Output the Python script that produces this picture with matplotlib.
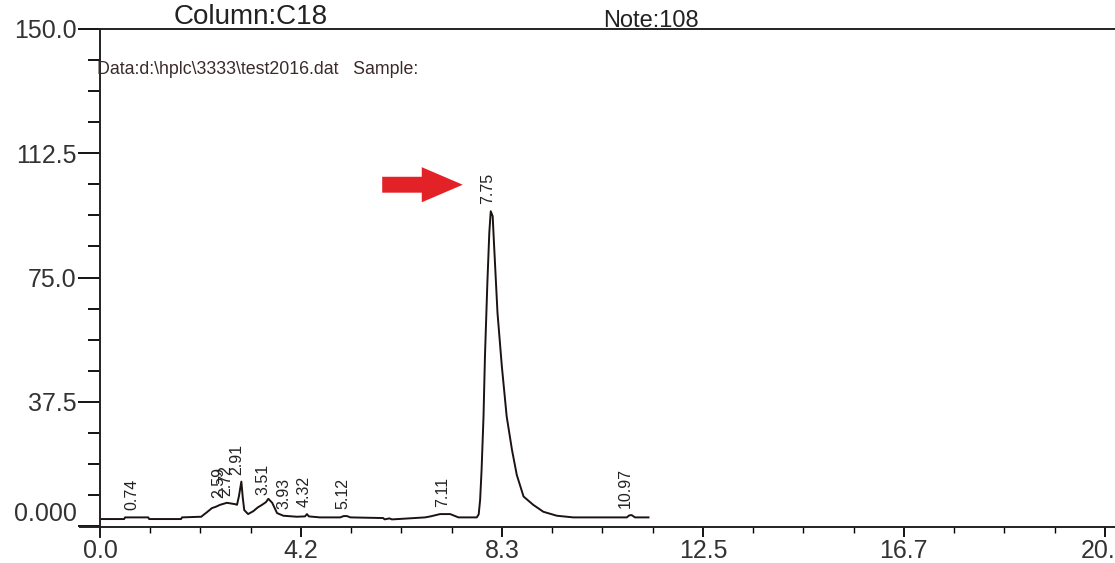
import numpy as np
import matplotlib
matplotlib.use("Agg")
import matplotlib.pyplot as plt
from matplotlib.ticker import AutoMinorLocator

plt.rcParams['font.family'] = ['Liberation Sans', 'DejaVu Sans']

# trace (time in min, signal)
time = [0.0, 0.50, 0.52, 1.00, 1.02, 1.68, 1.70, 2.10, 2.14, 2.22, 2.32, 2.40,
        2.49, 2.63, 2.80, 2.84, 2.88, 2.93, 2.96, 2.99, 3.07, 3.18, 3.27, 3.36,
        3.44, 3.49, 3.53, 3.57, 3.67, 3.80, 4.08, 4.25, 4.29, 4.33, 4.56, 4.98,
        5.05, 5.12, 5.19, 5.87, 5.90, 6.00, 6.05, 6.18, 6.74, 6.85, 7.05, 7.26,
        7.43, 7.81, 7.85, 7.88, 7.91, 7.95, 7.98, 8.03, 8.07, 8.10, 8.14, 8.17,
        8.24, 8.33, 8.43, 8.54, 8.64, 8.78, 8.98, 9.19, 9.47, 9.81, 10.92, 10.97,
        11.02, 11.09, 11.37]
signal = [2.1, 2.1, 2.6, 2.6, 2.1, 2.1, 2.6, 2.8, 3.3, 4.2, 5.4, 5.8,
          6.4, 7.0, 6.6, 6.4, 9.0, 13.4, 8.5, 4.8, 3.6, 4.5, 5.6, 6.4,
          7.2, 8.2, 7.6, 7.0, 3.9, 3.1, 2.8, 2.9, 3.6, 2.9, 2.6, 2.6,
          3.0, 3.0, 2.6, 2.4, 2.0, 2.3, 2.0, 2.1, 2.6, 2.9, 3.6, 3.6,
          2.6, 2.6, 3.5, 7.9, 16.9, 33.0, 51.2, 73.4, 88.5, 95.0, 93.5, 84.5,
          64.3, 48.2, 33.1, 23.0, 15.4, 8.9, 6.4, 4.3, 3.1, 2.6, 2.6, 3.2,
          3.3, 2.6, 2.6]

# peak labels and where they sit along the time axis
peak_labels = ["0.74", "2.59", "2.72", "2.91", "3.51", "3.93", "4.32",
               "5.12", "7.11", "7.75", "10.97"]
peak_label_x = [0.66, 2.47, 2.60, 2.84, 3.38, 3.82, 4.23, 5.04, 7.11, 8.03, 10.88]

y_ticks = [0.0, 37.5, 75.0, 112.5, 150.0]
y_tick_labels = ["0.000", "37.5", "75.0", "112.5", "150.0"]
x_tick_labels = ["0.0", "4.2", "8.3", "12.5", "16.7", "20.8"]
x_end = 20.83

fig = plt.figure(figsize=(11.15, 5.63), dpi=100)
ax = fig.add_axes([100 / 1115, 36 / 563, 1015 / 1115, 498 / 563])

t = np.array(time)
s = np.array(signal)
ax.plot(t, s, color='#1c1212', lw=1.4)

# peak retention time labels
for lab, xl in zip(peak_labels, peak_label_x):
    near = (t >= xl - 0.1) & (t <= xl + 0.1)
    top = s[near].max() if near.any() else np.interp(xl, t, s)
    ax.annotate(lab, (xl, top), xytext=(0, 5), textcoords='offset points',
                rotation=90, ha='center', va='bottom', fontsize=11.5,
                color='#222222')

# red arrow pointing at main peak
ax.arrow(5.85, 103.0, 1.67, 0, width=4.8, head_width=10.6, head_length=0.85,
         length_includes_head=True, color='#e32228', lw=0)

ax.set_xlim(0, 1015 / 48.24)
ax.set_ylim(-0.3, 150)

ax.set_xticks(np.linspace(0, x_end, 6))
ax.set_xticklabels(x_tick_labels)
ax.set_yticks(y_ticks)
ax.set_yticklabels(y_tick_labels)
ax.get_yticklabels()[0].set_va('bottom')
ax.xaxis.set_minor_locator(AutoMinorLocator(4))
ax.yaxis.set_minor_locator(AutoMinorLocator(4))

ax.tick_params(axis='y', which='major', length=16, width=1.3, pad=1,
               labelsize=18, labelcolor='#333333')
ax.tick_params(axis='y', which='minor', length=9, width=1.3)
ax.tick_params(axis='x', which='major', length=7.5, width=1.3, pad=1.5,
               labelsize=18, labelcolor='#333333')
ax.tick_params(axis='x', which='minor', length=4, width=1.0)

ax.spines['right'].set_visible(False)
for sp in ['left', 'bottom', 'top']:
    ax.spines[sp].set_linewidth(1.4)
    ax.spines[sp].set_color('#222222')

# axis lines poke past the corner
ax.plot([-0.02, 0], [0, 0], transform=ax.transAxes, color='#222222',
        lw=1.4, clip_on=False)
ax.plot([0, 0], [-0.02, 0], transform=ax.transAxes, color='#222222',
        lw=1.4, clip_on=False)

fig.text(251 / 1115, 1 - 24 / 563, "Column:C18", ha='center', va='baseline',
         fontsize=20, color='#222222')
fig.text(651 / 1115, 1 - 27 / 563, "Note:108", ha='center', va='baseline',
         fontsize=17, color='#222222')
fig.text(97 / 1115, 1 - 70 / 563, "Data:d:\\hplc\\3333\\test2016.dat   Sample:",
         ha='left', va='center', fontsize=12.8, color='#3a2a2a')

fig.savefig("out.png", dpi=100)
